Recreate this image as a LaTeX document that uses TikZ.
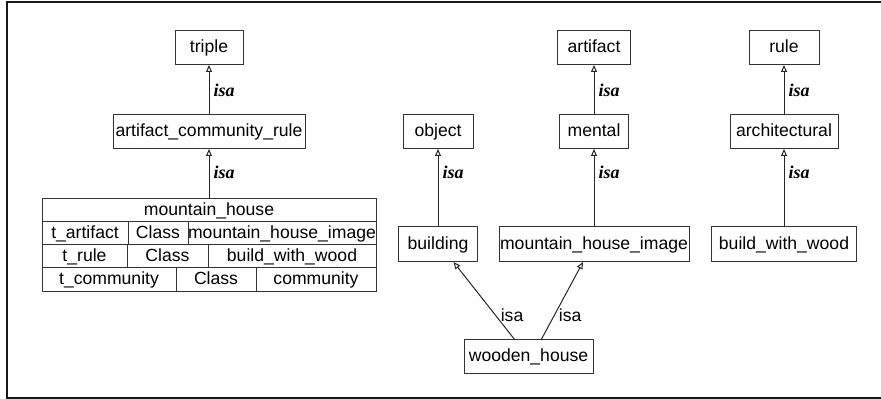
\documentclass[tikz,border=0pt]{standalone}
\usepackage{fontspec}
\setmainfont{Liberation Sans}
\newfontfamily\isafont{Liberation Serif}
\usetikzlibrary{arrows.meta, positioning}

\begin{document}
\begin{tikzpicture}[
        x=0.5pt, y=-0.5pt,
        box/.style={draw=black!80, line width=0.5pt, rectangle, minimum height=17pt, inner xsep=0pt, inner ysep=0pt, outer sep=0pt, text height=6.6pt, text depth=1.9pt, align=center, font=\fontsize{8.8}{10}\selectfont},
        cell/.style={box, minimum height=11.5pt},
        isa/.style={-{Triangle[open, length=3.5pt, width=3pt]}, draw=black!85, line width=0.5pt},
        isalab/.style={font=\isafont\bfseries\itshape\fontsize{9}{10}\selectfont, inner sep=1pt},
        isaplain/.style={font=\fontsize{8.8}{10}\selectfont, inner sep=1pt}
    ]
        \useasboundingbox (0,0) rectangle (881,399);
        % moldura (aberta a direita)
        \draw[line width=1pt, draw=black!90] (881,2) -- (7,2) -- (7,398) -- (881,398);

        % hierarquia da esquerda
        \node[box, minimum width=34pt] (triple) at (209,48) {triple};
        \node[box, minimum width=96pt] (acr) at (209,132) {artifact\_community\_rule};

        % classe mountain_house
        \node[box, minimum width=167pt, minimum height=11.5pt] (hdr) at (209,210.5) {mountain\_house};
        \node[cell, minimum width=43pt, anchor=north west] (c11) at (hdr.south west) {t\_artifact};
        \node[cell, minimum width=30pt, right=0pt of c11] (c12) {Class};
        \node[cell, minimum width=94pt, right=0pt of c12] (c13) {mountain\_house\_image};
        \node[cell, minimum width=42.5pt, anchor=north west] (c21) at (c11.south west) {t\_rule};
        \node[cell, minimum width=40.5pt, right=0pt of c21] (c22) {Class};
        \node[cell, minimum width=84pt, right=0pt of c22] (c23) {build\_with\_wood};
        \node[cell, minimum width=67pt, minimum height=12pt, anchor=north west] (c31) at (c21.south west) {t\_community};
        \node[cell, minimum width=40pt, minimum height=12pt, right=0pt of c31] (c32) {Class};
        \node[cell, minimum width=60pt, minimum height=12pt, right=0pt of c32] (c33) {community};

        % topo da direita
        \node[box, minimum width=36.5pt] (artifact) at (594,48) {artifact};
        \node[box, minimum width=35pt] (rule) at (784,48) {rule};
        \node[box, minimum width=35pt] (object) at (438,132) {object};
        \node[box, minimum width=34.5pt] (mental) at (594,132) {mental};
        \node[box, minimum width=54pt] (arch) at (784,132) {architectural};

        % nivel de baixo
        \node[box, minimum width=39.5pt, minimum height=17.5pt] (building) at (438,244.5) {building};
        \node[box, minimum width=95pt, minimum height=17.5pt] (mhi) at (594,244.5) {mountain\_house\_image};
        \node[box, minimum width=72.5pt, minimum height=17.5pt] (bww) at (784,244.5) {build\_with\_wood};
        \node[box, minimum width=64.5pt] (wooden) at (528.5,357) {wooden\_house};

        % Ligacoes isa
        \draw[isa] (acr) -- (triple) node[pos=0.5, right=1pt, isalab] {isa};
        \draw[isa] (hdr) -- (acr) node[pos=0.54, right=1pt, isalab] {isa};
        \draw[isa] (mental) -- (artifact) node[pos=0.5, right=1pt, isalab] {isa};
        \draw[isa] (arch) -- (rule) node[pos=0.5, right=1pt, isalab] {isa};
        \draw[isa] (building) -- (object) node[pos=0.7, right=1pt, isalab] {isa};
        \draw[isa] (mhi) -- (mental) node[pos=0.7, right=1pt, isalab] {isa};
        \draw[isa] (bww) -- (arch) node[pos=0.7, right=1pt, isalab] {isa};

        \draw[isa] ([xshift=-6.75pt]wooden.north) -- ([xshift=7.75pt]building.south)
            node[pos=0.32, right=1.5pt, isaplain] {isa};
        \draw[isa] ([xshift=6.25pt]wooden.north) -- ([xshift=-5.5pt]mhi.south)
            node[pos=0.32, right=1pt, isaplain] {isa};

    \end{tikzpicture}
\end{document}
